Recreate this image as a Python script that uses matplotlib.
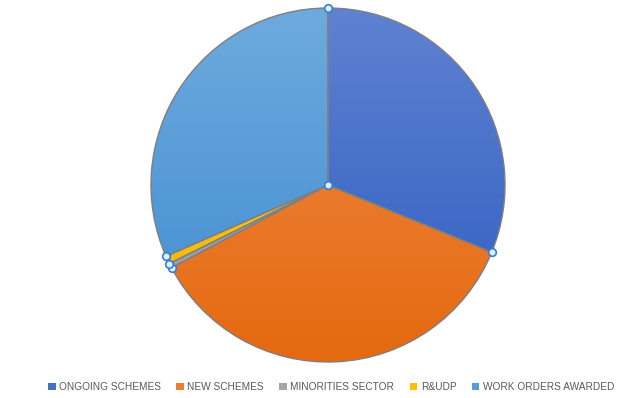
import numpy as np
import matplotlib
matplotlib.use('Agg')
import matplotlib.pyplot as plt
from matplotlib.colors import LinearSegmentedColormap
from matplotlib.patches import Patch

# ── data ──
labels = ['ONGOING SCHEMES', 'NEW SCHEMES', 'MINORITIES SECTOR', 'R&UDP', 'WORK ORDERS AWARDED']
values = [31.2, 36.05, 0.42, 0.72, 31.6]
colors = ['#4472C4', '#ED7D31', '#A5A5A5', '#FFC000', '#5B9BD5']
# light (top) -> dark (bottom) for the gradient fill
grad_top = ['#5f82d2', '#f28c4c', '#b4b4b4', '#ffcb33', '#6eaade']
grad_bot = ['#2d5cbf', '#e4690f', '#989898', '#f2b400', '#3f8bd1']

W, H = 639, 398
cx, cy, r = 328, H - 185, 177

fig = plt.figure(figsize=(W / 100, H / 100), dpi=100)
ax = fig.add_axes([0, 0, 1, 1])

wedges, _ = ax.pie(values, colors=colors, startangle=90, counterclock=False,
                   center=(cx, cy), radius=r, frame=True,
                   wedgeprops=dict(edgecolor='#7f7f7f', linewidth=1.0))
ax.set_xlim(0, W)
ax.set_ylim(0, H)
ax.set_aspect('equal')
ax.axis('off')

# gradient fill clipped to each wedge
grad = np.linspace(0, 1, 256).reshape(-1, 1)
for w, c1, c2 in zip(wedges, grad_top, grad_bot):
    cmap = LinearSegmentedColormap.from_list('g', [c2, c1])
    im = ax.imshow(grad, cmap=cmap, extent=[cx - r, cx + r, cy - r, cy + r],
                   origin='lower', aspect='auto', zorder=w.get_zorder() + 0.1)
    im.set_clip_path(w)
    w.set_facecolor('none')
    w.set_zorder(w.get_zorder() + 0.2)
ax.set_xlim(0, W)
ax.set_ylim(0, H)

# selection handles
ang = 90 - 360 * np.concatenate([[0], np.cumsum(values)[:-1]]) / sum(values)
hx = cx + r * np.cos(np.radians(ang))
hy = cy + r * np.sin(np.radians(ang))
ax.plot(np.append(hx, cx), np.append(hy, cy), 'o', ms=5.5, mfc='#e3eefa',
        mec='#2f7ed8', mew=1.2, zorder=10, clip_on=False)

handles = [Patch(facecolor=c, edgecolor='none') for c in colors]
fig.legend(handles, labels, loc='center', bbox_to_anchor=(331 / W, 1 - 387 / H),
           ncol=5, frameon=False, handlelength=0.75, handleheight=0.75,
           handletextpad=0.35, columnspacing=1.5, labelcolor='#595959',
           prop={'family': 'Liberation Sans', 'size': 7.3})

fig.savefig('out.png', dpi=100)
